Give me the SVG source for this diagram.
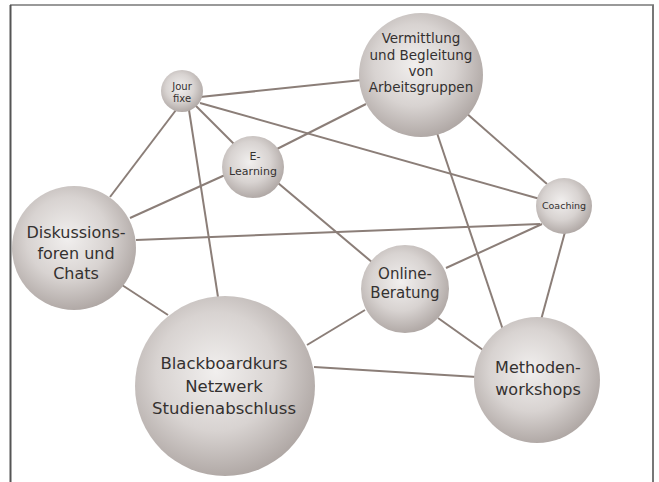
<svg xmlns="http://www.w3.org/2000/svg" width="659" height="482" viewBox="0 0 659 482">
<defs>
<radialGradient id="ball" cx="0.45" cy="0.42" r="0.6">
<stop offset="0" stop-color="#f1efee"/>
<stop offset="0.55" stop-color="#d8d3d1"/>
<stop offset="1" stop-color="#aea6a3"/>
</radialGradient>
</defs>
<style>
.n{fill:url(#ball);}
.t{font-family:"DejaVu Sans",Verdana,sans-serif;fill:#343130;text-anchor:middle;}
.e line{stroke:#8b7e78;stroke-width:2;}
</style>
<rect width="659" height="482" fill="#ffffff"/>
<g id="frame">
<line x1="10" y1="5" x2="654" y2="5" stroke="#999" stroke-width="2"/>
<line x1="10.5" y1="5" x2="10.5" y2="482" stroke="#555" stroke-width="2"/>
<line x1="653" y1="5" x2="653" y2="482" stroke="#777" stroke-width="2"/>
</g>
<g id="connectors" class="e">
<line x1="200" y1="97" x2="362" y2="80"/>
<line x1="195" y1="105" x2="235" y2="145"/>
<line x1="200" y1="103" x2="540" y2="199"/>
<line x1="176" y1="110" x2="110" y2="197"/>
<line x1="189" y1="110" x2="218" y2="297"/>
<line x1="275" y1="150" x2="366" y2="104"/>
<line x1="225" y1="175" x2="130" y2="218"/>
<line x1="278" y1="183" x2="373" y2="263"/>
<line x1="136" y1="240" x2="540" y2="224"/>
<line x1="122" y1="285" x2="168" y2="315"/>
<line x1="465" y1="112" x2="547" y2="184"/>
<line x1="437" y1="133" x2="503" y2="330"/>
<line x1="542" y1="224" x2="446" y2="268"/>
<line x1="565" y1="232" x2="541" y2="320"/>
<line x1="365" y1="310" x2="307" y2="345"/>
<line x1="438" y1="318" x2="483" y2="350"/>
<line x1="314" y1="367" x2="477" y2="377"/>
</g>
<g id="jourfixe">
<circle class="n" cx="182" cy="91" r="21"/>
<text class="t" x="182" y="90" font-size="10">Jour</text>
<text class="t" x="182" y="102" font-size="10">fixe</text>
</g>
<g id="vermittlung">
<circle class="n" cx="421" cy="75" r="62"/>
<text class="t" x="421" y="43" font-size="13.5">Vermittlung</text>
<text class="t" x="421" y="60" font-size="13.5">und Begleitung</text>
<text class="t" x="421" y="76" font-size="13.5">von</text>
<text class="t" x="421" y="92" font-size="13.5">Arbeitsgruppen</text>
</g>
<g id="elearning">
<circle class="n" cx="253" cy="167" r="31"/>
<text class="t" x="255" y="160" font-size="11">E-</text>
<text class="t" x="253" y="175" font-size="11">Learning</text>
</g>
<g id="coaching">
<circle class="n" cx="564" cy="206" r="28"/>
<text class="t" x="564" y="209" font-size="9.5">Coaching</text>
</g>
<g id="diskussion">
<circle class="n" cx="74" cy="248" r="62"/>
<text class="t" x="76" y="238" font-size="16">Diskussions-</text>
<text class="t" x="76" y="259" font-size="16">foren und</text>
<text class="t" x="76" y="279" font-size="16">Chats</text>
</g>
<g id="online">
<circle class="n" cx="405" cy="289" r="44"/>
<text class="t" x="405" y="279" font-size="15">Online-</text>
<text class="t" x="405" y="298" font-size="15">Beratung</text>
</g>
<g id="blackboard">
<circle class="n" cx="225" cy="386" r="90"/>
<text class="t" x="224" y="369" font-size="16.5">Blackboardkurs</text>
<text class="t" x="224" y="392" font-size="16.5">Netzwerk</text>
<text class="t" x="224" y="414" font-size="16.5">Studienabschluss</text>
</g>
<g id="methoden">
<circle class="n" cx="537" cy="380" r="63"/>
<text class="t" x="538" y="373" font-size="16">Methoden-</text>
<text class="t" x="538" y="395" font-size="16">workshops</text>
</g>
</svg>
